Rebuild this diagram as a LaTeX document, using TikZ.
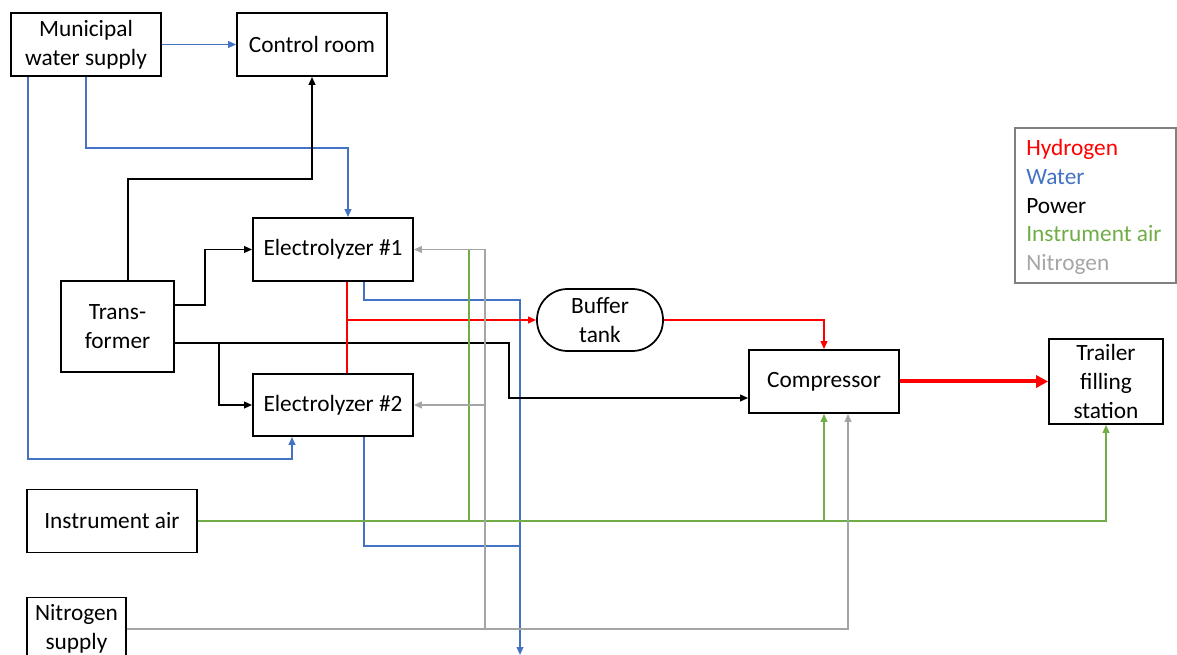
\documentclass[tikz,border=0pt]{standalone}
\usepackage{fontspec}
\setmainfont{Carlito}
\usetikzlibrary{arrows.meta,calc}

\definecolor{hydred}{HTML}{FF0000}
\definecolor{watblue}{HTML}{4472C4}
\definecolor{airgreen}{HTML}{70AD47}
\definecolor{nitgray}{HTML}{A5A5A5}
\definecolor{keygray}{HTML}{808080}

\tikzset{
  box/.style={draw, line width=1.3pt, align=center, inner sep=1pt,
    font=\fontsize{17.5}{21.5}\selectfont},
  tankbox/.style={box, rounded corners=23pt},
  flow/.style={line width=1.3pt, -{Triangle[length=6pt,width=5pt]}},
  hyd/.style={flow, color=hydred},
  wat/.style={flow, color=watblue},
  pow/.style={flow, color=black},
  air/.style={flow, color=airgreen},
  nit/.style={flow, color=nitgray},
}

\begin{document}
\begin{tikzpicture}[x=0.75pt,y=-0.75pt]
      \useasboundingbox (0,0) rectangle (1177,655);

      % Units
      \node[box, minimum width=112.5pt, minimum height=47.25pt]
        (muni) at (86,44.5) {Municipal\\water supply};
      \node[box, minimum width=112.5pt, minimum height=47.25pt]
        (ctrl) at (312,44.5) {Control room};
      \node[box, minimum width=120pt, minimum height=47.25pt]
        (el1) at (333,249.5) {Electrolyzer \#1};
      \node[box, minimum width=120pt, minimum height=46.5pt]
        (el2) at (333,405) {Electrolyzer \#2};
      \node[box, minimum width=84.75pt, minimum height=68.25pt]
        (trafo) at (117.5,326.5) {Trans-\\former};
      \node[tankbox, minimum width=94.5pt, minimum height=46.5pt]
        (buffer) at (600,320) {Buffer\\tank};
      \node[box, minimum width=112.5pt, minimum height=47.25pt]
        (comp) at (824,381.5) {Compressor};
      \node[box, minimum width=85.5pt, minimum height=63.75pt]
        (trailer) at (1106,381.5) {Trailer\\filling\\station};
      \node[box, minimum width=127.5pt, minimum height=47.25pt]
        (iair) at (112,521) {Instrument air};
      \node[box, minimum width=74.25pt, minimum height=47.25pt]
        (n2) at (76.5,629) {Nitrogen\\supply};

      % Legend
      \draw[keygray, line width=0.8pt] (1015,128) rectangle (1176,283);
      \node[anchor=west, font=\fontsize{17.5}{21.5}\selectfont, align=left,
        inner sep=0pt] (key) at (1026,207)
        {\textcolor{hydred}{Hydrogen}\\\textcolor{watblue}{Water}\\Power\\
         \textcolor{airgreen}{Instrument air}\\\textcolor{nitgray}{Nitrogen}};

      % Water
      \draw[wat] (muni) -- (ctrl);
      \draw[wat] (muni.south) -- ++(0,71) -| ($(el1.north)+(15,0)$);
      \draw[wat] ($(muni.south west)+(18,0)$) -- ++(0,382)
        -| ($(el2.south)+(-41,0)$);
      \coordinate (drain) at (520,655);
      \coordinate (wj) at (520,546);
      \draw[wat] ($(el1.south)+(31,0)$) -- ++(0,18) -| (drain);
      \draw[wat, -] ($(el2.south)+(31,0)$) |- (wj);

      % Power
      \draw[pow] ($(trafo.north)+(10.5,0)$) -- ++(0,-101) -| (ctrl.south);
      \draw[pow] ($(trafo.east)+(0,-21.5)$) -- ++(30,0) |- (el1.west);
      \draw[pow] ($(trafo.east)+(0,16.5)$) -- ++(44,0) |- (el2.west);
      \draw[pow] ($(trafo.east)+(0,16.5)$) -- ++(334,0)
        |- ($(comp.west)+(0,16.5)$);

      % Hydrogen
      \draw[hyd, -] ($(el1.south)+(14,0)$) -- ($(el2.north)+(14,0)$);
      \draw[hyd] ($(el1.south)+(14,0)$) |- (buffer.west);
      \draw[hyd] (buffer.east) -| (comp.north);
      \draw[hyd, line width=3pt, -{Triangle[length=9pt,width=9pt]}]
        (comp) -- (trailer);

      % Instrument air
      \coordinate (ga) at ($(el1.east)+(55,0)$);
      \draw[air] (iair.east) -| (trailer.south);
      \draw[air] (comp.south |- iair.east) -- (comp.south);
      \draw[air, -, line width=1.8pt] (ga |- iair.east) -- (ga);

      % Nitrogen
      \coordinate (na) at ($(el1.east)+(71,0)$);
      \draw[nit] (n2.east) -| ($(comp.south)+(24,0)$);
      \draw[nit] (na |- n2.east) -- (na) -- (el1.east);
      \draw[nit] (na |- el2.east) -- (el2.east);
    \end{tikzpicture}
\end{document}
